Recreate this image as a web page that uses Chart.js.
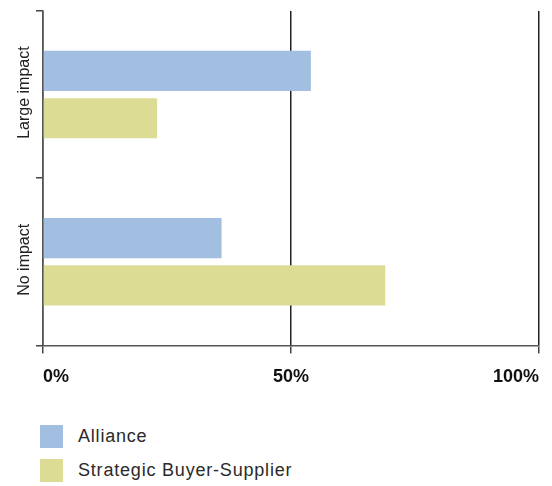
<!DOCTYPE html>
<html lang="en">
<head>
  <meta charset="UTF-8"/>
  <title>Impact by relationship type</title>
  <script src="https://cdn.jsdelivr.net/npm/chart.js"></script>
  <style>
    body { margin: 0; background: #fff; font-family: "Liberation Sans", Arial, sans-serif; }
    #wrap { position: relative; width: 552px; height: 486px; }
    #chart-box { position: absolute; left: 0; top: 0; width: 552px; height: 401px; }
    #legend { position: absolute; left: 40px; top: 425px; }
    .item { display: flex; align-items: center; height: 23px; margin-bottom: 11px; font-size: 18px; letter-spacing: 0.8px; color: #2a2a2a; }
    .swatch { width: 23px; height: 23px; margin-right: 15px; }
  </style>
</head>
<body>
  <div id="wrap">
    <div id="chart-box"><canvas id="impactChart"></canvas></div>
    <div id="legend"></div>
  </div>

  <script>
    const categories = ['Large impact', 'No impact'];
    const seriesNames = ['Alliance', 'Strategic Buyer-Supplier'];
    const alliance = [54, 36];
    const buyerSupplier = [23, 69];
    const tickLabels = { 0: '0%', 50: '50%', 100: '100%' };
    const colors = ['#a2bee0', '#dddc94'];

    // rotated category names, centred on each band
    const rotatedLabels = {
      id: 'rotatedLabels',
      afterDraw(chart) {
        const { ctx, scales: { y } } = chart;
        ctx.save();
        ctx.fillStyle = '#222';
        ctx.font = '16px "Liberation Sans", Arial, sans-serif';
        ctx.textAlign = 'center';
        ctx.textBaseline = 'middle';
        categories.forEach((name, i) => {
          ctx.save();
          ctx.translate(25, y.getPixelForValue(i) - 2);
          ctx.rotate(-Math.PI / 2);
          ctx.fillText(name, 0, 0);
          ctx.restore();
        });
        ctx.restore();
      }
    };

    const ctx = document.getElementById('impactChart').getContext('2d');
    const chart = new Chart(ctx, {
      type: 'bar',
      data: {
        labels: categories,
        datasets: [
          { label: seriesNames[0], data: alliance, backgroundColor: colors[0] },
          { label: seriesNames[1], data: buyerSupplier, backgroundColor: colors[1] }
        ]
      },
      options: {
        indexAxis: 'y',
        responsive: true,
        maintainAspectRatio: false,
        animation: false,
        datasets: { bar: { barPercentage: 0.85, categoryPercentage: 0.566 } },
        layout: { padding: { top: 11, right: 12, left: 36, bottom: 0 } },
        plugins: { legend: { display: false }, tooltip: { enabled: false } },
        scales: {
          x: {
            min: 0, max: 100,
            z: 1,
            border: { color: '#555', width: 1.5 },
            grid: { color: '#222', lineWidth: 1.5, tickLength: 8, tickColor: '#444' },
            ticks: {
              stepSize: 50,
              align: 'inner',
              padding: 13,
              color: '#111',
              font: { family: 'Liberation Sans', size: 18, weight: 'bold' },
              callback: v => tickLabels[v]
            }
          },
          y: {
            border: { color: '#555', width: 1.5 },
            grid: { offset: true, drawOnChartArea: false, tickLength: 7, tickColor: '#444', lineWidth: 1.5 },
            ticks: { display: false }
          }
        }
      },
      plugins: [rotatedLabels]
    });

    // legend as a vertical list
    const legend = document.getElementById('legend');
    seriesNames.forEach((name, i) => {
      const row = document.createElement('div');
      row.className = 'item';
      row.innerHTML = '<span class="swatch" style="background:' + colors[i] + '"></span>' + name;
      legend.appendChild(row);
    });
  </script>
</body>
</html>
